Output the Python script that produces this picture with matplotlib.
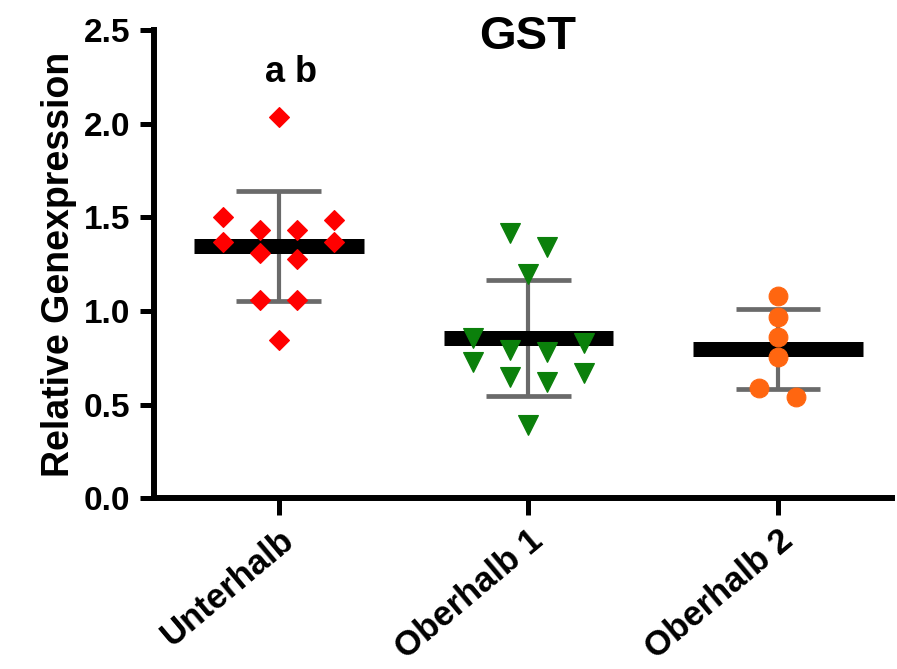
import numpy as np
import matplotlib
matplotlib.use("Agg")
import matplotlib.pyplot as plt
from matplotlib.transforms import ScaledTranslation

# ---- data ----
categories = ["Unterhalb", "Oberhalb 1", "Oberhalb 2"]
unterhalb = [2.035, 1.50, 1.485, 1.43, 1.43, 1.37, 1.37, 1.31, 1.28, 1.06, 1.06, 0.845]
oberhalb1 = [1.415, 1.34, 1.20, 0.855, 0.83, 0.79, 0.78, 0.727, 0.67, 0.647, 0.622, 0.39]
oberhalb2 = [1.08, 0.967, 0.86, 0.753, 0.588, 0.54]
yticks = [0.0, 0.5, 1.0, 1.5, 2.0, 2.5]
ytick_labels = ["0.0", "0.5", "1.0", "1.5", "2.0", "2.5"]
title = "GST"
ylabel = "Relative Genexpression"
annotation = "a b"

groups = [unterhalb, oberhalb1, oberhalb2]
colors = ["#FF0000", "#0B800B", "#FF6610"]
markers = ["D", "v", "o"]
msizes = [10.5, 14, 13.5]

FONT = ["Liberation Sans", "DejaVu Sans"]
plt.rcParams["font.family"] = FONT
plt.rcParams["font.weight"] = "bold"


def swarm_offsets(vals, gap=0.09, span=0.12, step=0.148):
    """Prism-like scatter: group close values into rows, spread rows symmetrically."""
    vals = np.asarray(vals, float)
    order = np.argsort(-vals, kind="stable")
    rows = []
    for idx in order:
        if rows:
            row = rows[-1]
            if vals[row[-1]] - vals[idx] <= gap and vals[row[0]] - vals[idx] <= span:
                row.append(idx)
                continue
        rows.append([idx])
    offs = np.zeros(len(vals))
    for row in rows:
        n = len(row)
        slots = (np.arange(n) - (n - 1) / 2) * step
        seq = []
        l, r = 0, n - 1
        while l <= r:
            seq.append(l)
            if l != r:
                seq.append(r)
            l += 1
            r -= 1
        for idx, s in zip(row, seq):
            offs[idx] = slots[s]
    return offs


W, H = 897, 669
fig = plt.figure(figsize=(W / 100, H / 100), dpi=100)
ax_left, ax_right, ax_top, ax_bottom = 154, 892, 30, 498.3
ax = fig.add_axes([ax_left / W, (H - ax_bottom) / H, (ax_right - ax_left) / W, (ax_bottom - ax_top) / H])

for i, vals in enumerate(groups):
    v = np.asarray(vals)
    m = v.mean()
    sd = v.std(ddof=1)
    # error bar (SD)
    ax.vlines(i, m - sd, m + sd, color="#6A6A6A", lw=3.0, zorder=2)
    ax.hlines([m - sd, m + sd], i - 0.17, i + 0.17, color="#6A6A6A", lw=3.4, zorder=2)
    # mean line
    ax.hlines(m, i - 0.34, i + 0.34, color="black", lw=10.8, zorder=3, capstyle="butt")
    # points
    xs = i + swarm_offsets(v)
    ax.plot(xs, v, linestyle="none", marker=markers[i], ms=msizes[i], color=colors[i],
            mec=colors[i], mew=0.8, zorder=4, clip_on=False)

ax.set_xlim(-0.5, (ax_right - 279) / 249.5)
ax.set_ylim(0, 2.5)

for s in ["top", "right"]:
    ax.spines[s].set_visible(False)
for s in ["left", "bottom"]:
    ax.spines[s].set_linewidth(4.3)
    ax.spines[s].set_capstyle("projecting")

ax.set_yticks(yticks)
ax.set_yticklabels(ytick_labels, fontsize=24, fontweight="bold")
ax.tick_params(axis="y", length=10, width=3.6, pad=7)
ax.set_xticks(range(len(categories)))
ax.set_xticklabels(categories, fontsize=25, fontweight="bold", rotation=40,
                   ha="right", va="top", rotation_mode="anchor")
ax.tick_params(axis="x", length=12.5, width=3.6, pad=5.5)
offset = ScaledTranslation(0 / 100, 0, fig.dpi_scale_trans)
for lab in ax.get_xticklabels():
    lab.set_transform(lab.get_transform() + offset)

ax.set_ylabel(ylabel, fontsize=27, fontweight="bold")
ax.yaxis.set_label_coords((77 - ax_left) / (ax_right - ax_left), 0.5)

fig.text(528 / W, (H - 49) / H, title, ha="center", va="baseline", fontsize=34, fontweight="bold")
ax.text(0.048, 2.223, annotation, ha="center", va="baseline", fontsize=26, fontweight="bold")

fig.savefig("out.png", dpi=100)
